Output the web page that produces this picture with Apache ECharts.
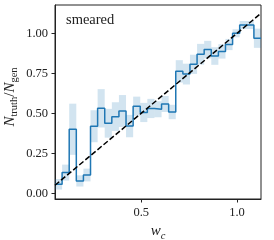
<!DOCTYPE html>
<html>
<head>
<meta charset="utf-8">
<script src="https://cdn.jsdelivr.net/npm/echarts@6/dist/echarts.min.js"></script>
<style>
html,body{margin:0;padding:0;background:#fff;}
#c{width:274px;height:240px;}
</style>
</head>
<body>
<div id="c"></div>
<script>
// bin edges (w_c)
const binEdges = [0.05, 0.08707, 0.12414, 0.16121, 0.19828, 0.23534, 0.27241, 0.30948, 0.34655, 0.38362,
  0.42069, 0.45776, 0.49483, 0.5319, 0.56897, 0.60603, 0.6431, 0.68017, 0.71724, 0.75431,
  0.79138, 0.82845, 0.86552, 0.90259, 0.93966, 0.97672, 1.01379, 1.05086, 1.08793, 1.125];
// N_truth / N_gen per bin
const ratio = [0.056, 0.129, 0.40, 0.077, 0.114, 0.419, 0.531, 0.4375, 0.479, 0.514,
  0.42, 0.544, 0.505, 0.53, 0.525, 0.558, 0.508, 0.762, 0.745, 0.806,
  0.869, 0.898, 0.858, 0.887, 0.93, 1.0, 1.052, 1.052, 0.969];
// uncertainty (half width) per bin
const ratioErr = [0.033, 0.05, 0.16, 0.035, 0.04, 0.1, 0.12, 0.09, 0.09, 0.1,
  0.07, 0.06, 0.06, 0.06, 0.05, 0.05, 0.045, 0.07, 0.065, 0.06,
  0.065, 0.055, 0.055, 0.045, 0.035, 0.025, 0.025, 0.025, 0.06];
const diagLine = [[0.05, 0.05], [1.125, 1.125]];
const xTicks = [0.5, 1.0];
const yTicks = [0.0, 0.25, 0.5, 0.75, 1.0];
const panelLabel = 'smeared';

const FONT = '"Liberation Serif", "DejaVu Serif", serif';
const INK = '#222';
const C0 = '#1f77b4';

const stepData = ratio.map((v, i) => [binEdges[i], v]);
stepData.push([binEdges[binEdges.length - 1], ratio[ratio.length - 1]]);
const bandData = ratio.map((v, i) => [binEdges[i], binEdges[i + 1], v - ratioErr[i], v + ratioErr[i]]);

const chart = echarts.init(document.getElementById('c'), null, {renderer: 'canvas'});
chart.setOption({
  animation: false,
  backgroundColor: '#fff',
  grid: {left: 55, right: 13, top: 5, bottom: 41, containLabel: false, outerBoundsMode: 'none',
    show: true, borderColor: INK, borderWidth: 1, backgroundColor: 'transparent'},
  xAxis: {
    type: 'value', min: 0.05, max: 1.125,
    axisLine: {show: true, onZero: false, lineStyle: {color: INK, width: 1}},
    axisTick: {show: true, customValues: xTicks, length: 3.5, lineStyle: {color: INK}},
    axisLabel: {customValues: xTicks, formatter: v => v.toFixed(1), fontFamily: FONT, fontSize: 12.5, color: INK, margin: 7},
    splitLine: {show: false},
    name: '{i|w}{s|c}', nameLocation: 'middle', nameGap: 19,
    nameTextStyle: {rich: {
      i: {fontFamily: FONT, fontStyle: 'italic', fontSize: 15, color: INK, lineHeight: 20, verticalAlign: 'middle'},
      s: {fontFamily: FONT, fontStyle: 'italic', fontSize: 10.5, color: INK, lineHeight: 10, verticalAlign: 'bottom'}
    }}
  },
  yAxis: {
    type: 'value', min: -0.036, max: 1.177,
    axisLine: {show: true, onZero: false, lineStyle: {color: INK, width: 1}},
    axisTick: {show: true, customValues: yTicks, length: 3.5, lineStyle: {color: INK}},
    axisLabel: {customValues: yTicks, formatter: v => v.toFixed(2), fontFamily: FONT, fontSize: 12.5, color: INK, margin: 7},
    splitLine: {show: false}
  },
  graphic: [{
    type: 'text', left: 66, top: 13,
    style: {text: panelLabel, font: '14.5px ' + FONT, fill: INK}
  }, {
    type: 'text', x: 10, y: 97, rotation: Math.PI / 2,
    style: {
      text: '{n|N}{s|truth}{p|/}{n|N}{s|gen}', align: 'center', verticalAlign: 'middle',
      rich: {
        n: {fontFamily: FONT, fontStyle: 'italic', fontSize: 15, fill: INK, lineHeight: 20, verticalAlign: 'middle'},
        p: {fontFamily: FONT, fontSize: 15, fill: INK, lineHeight: 20, verticalAlign: 'middle'},
        s: {fontFamily: FONT, fontSize: 10.5, fill: INK, lineHeight: 10, verticalAlign: 'bottom'}
      }
    }
  }],
  series: [
    {
      type: 'custom', z: 1, silent: true,
      data: bandData,
      clip: true,
      renderItem: function (params, api) {
        const p1 = api.coord([api.value(0), api.value(3)]);
        const p2 = api.coord([api.value(1), api.value(2)]);
        return {
          type: 'rect',
          shape: {x: p1[0], y: p1[1], width: p2[0] - p1[0], height: p2[1] - p1[1]},
          style: {fill: 'rgba(31,119,180,0.2)', stroke: null}
        };
      }
    },
    {
      type: 'line', z: 2, step: 'end', data: stepData, showSymbol: false, symbol: 'none',
      lineStyle: {color: C0, width: 1.5}, clip: true
    },
    {
      type: 'line', z: 3, data: diagLine, showSymbol: false, symbol: 'none',
      lineStyle: {color: '#000', width: 1.5, type: [5.5, 2.4]}, clip: true
    }
  ]
});
</script>
</body>
</html>
